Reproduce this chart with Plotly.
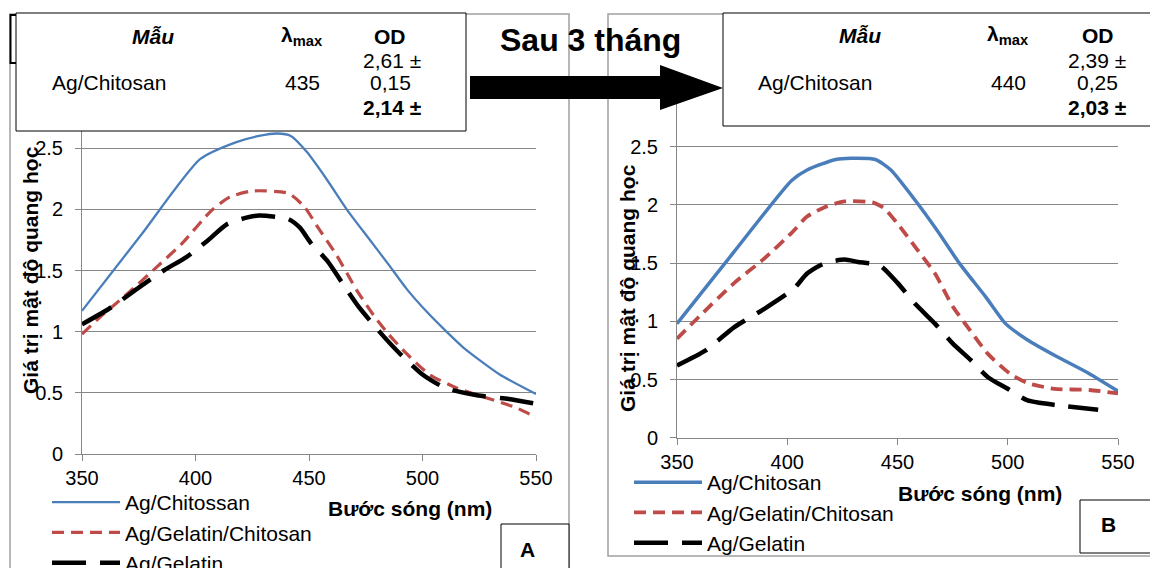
import plotly.graph_objects as go

# the page body has an 8 px margin, so the figure is drawn 8 px in from the top-left
OFF = 8
W, H = 1158 - OFF, 568 - OFF
FONT = "Liberation Sans"

# ---------------- data ----------------
wavelength_ticks = [350, 400, 450, 500, 550]
od_ticks = [0, 0.5, 1, 1.5, 2, 2.5]

series_names_a = ["Ag/Chitossan", "Ag/Gelatin/Chitosan", "Ag/Gelatin"]
series_names_b = ["Ag/Chitosan", "Ag/Gelatin/Chitosan", "Ag/Gelatin"]

# Panel A (ban đầu)
a_chitosan_x = [350, 376, 402, 418, 428, 436, 442, 449, 458, 467, 476, 485, 493, 502, 510, 518, 534, 550]
a_chitosan_y = [1.17, 1.79, 2.41, 2.55, 2.60, 2.62, 2.60, 2.47, 2.24, 1.99, 1.77, 1.55, 1.35, 1.16, 1.01, 0.87, 0.65, 0.49]

a_gel_chi_x = [350, 358, 370, 383, 394, 407, 415, 425, 441, 448, 454, 462, 471, 479, 485, 493, 503, 515, 528, 541, 550]
a_gel_chi_y = [0.98, 1.12, 1.31, 1.53, 1.72, 1.99, 2.10, 2.15, 2.13, 2.02, 1.85, 1.63, 1.34, 1.12, 0.98, 0.82, 0.65, 0.54, 0.46, 0.38, 0.30]

a_gelatin_x = [350, 363, 375, 386, 396, 405, 414, 422, 428, 441, 446, 451, 458, 466, 472, 482, 489, 500, 510, 524, 538, 550]
a_gelatin_y = [1.06, 1.20, 1.36, 1.50, 1.61, 1.74, 1.88, 1.93, 1.95, 1.92, 1.85, 1.72, 1.58, 1.36, 1.20, 0.98, 0.84, 0.65, 0.54, 0.48, 0.45, 0.41]

# Panel B (sau 3 tháng)
b_chitosan_x = [350, 376, 402, 409, 422, 429, 440, 447, 458, 468, 478, 490, 499, 509, 522, 537, 550]
b_chitosan_y = [0.98, 1.60, 2.21, 2.30, 2.39, 2.40, 2.39, 2.30, 2.04, 1.78, 1.50, 1.21, 0.98, 0.84, 0.70, 0.55, 0.40]

b_gel_chi_x = [350, 360, 376, 389, 402, 409, 417, 426, 439, 444, 450, 458, 467, 475, 483, 491, 501, 509, 521, 537, 550]
b_gel_chi_y = [0.85, 1.04, 1.33, 1.53, 1.76, 1.90, 1.98, 2.03, 2.02, 1.97, 1.84, 1.64, 1.41, 1.13, 0.92, 0.72, 0.55, 0.47, 0.42, 0.41, 0.38]

b_gelatin_x = [350, 363, 376, 389, 403, 409, 417, 426, 432, 442, 450, 458, 467, 475, 483, 491, 500, 509, 522, 541]
b_gelatin_y = [0.62, 0.75, 0.95, 1.10, 1.28, 1.41, 1.50, 1.53, 1.51, 1.48, 1.33, 1.15, 0.98, 0.81, 0.67, 0.52, 0.42, 0.32, 0.28, 0.24]

# tables
table_a = {"sample": "Ag/Chitosan", "lmax": "435", "od1": "2,61 ±", "od2": "0,15", "od3": "2,14 ±"}
table_b = {"sample": "Ag/Chitosan", "lmax": "440", "od1": "2,39 ±", "od2": "0,25", "od3": "2,03 ±"}

# ---------------- helpers (page pixels -> paper fractions) ----------------
def fx(px):
    return (px - OFF) / W

def fy(py):
    return 1 - (py - OFF) / H

BLUE = "#4A7EBB"
RED = "#BE4B48"
BLACK = "#000000"
GRID = "#868686"
BORDER = "#A0A0A0"

fig = go.Figure()

styles = [
    dict(color=BLUE, dash="solid"),
    dict(color=RED, dash="12px,7px"),
    dict(color=BLACK, dash="34px,14px"),
]
widths_a = [2.3, 3.2, 4.5]
widths_b = [3.5, 3.8, 4.5]

for (xs, ys), st, w, name in zip(
    [(a_chitosan_x, a_chitosan_y), (a_gel_chi_x, a_gel_chi_y), (a_gelatin_x, a_gelatin_y)],
    styles, widths_a, series_names_a):
    fig.add_trace(go.Scatter(x=xs, y=ys, mode="lines", name=name,
                             line=dict(color=st["color"], dash=st["dash"], width=w,
                                       shape="spline", smoothing=0.6),
                             xaxis="x", yaxis="y", legend="legend"))

for (xs, ys), st, w, name in zip(
    [(b_chitosan_x, b_chitosan_y), (b_gel_chi_x, b_gel_chi_y), (b_gelatin_x, b_gelatin_y)],
    styles, widths_b, series_names_b):
    fig.add_trace(go.Scatter(x=xs, y=ys, mode="lines", name=name,
                             line=dict(color=st["color"], dash=st["dash"], width=w,
                                       shape="spline", smoothing=0.6),
                             xaxis="x2", yaxis="y2", legend="legend2"))

xax = dict(range=[350, 550], tickvals=wavelength_ticks, showgrid=False, zeroline=False,
           showline=True, linecolor=GRID, linewidth=1, ticks="outside", ticklen=6,
           tickcolor=GRID, tickfont=dict(size=20, color="#000"), ticklabelstandoff=0,
           fixedrange=True, automargin=False)
yax = dict(range=[0, 3], tickvals=od_ticks, showgrid=True,
           gridcolor=GRID, gridwidth=1.3, zeroline=False, showline=True, linecolor=GRID,
           linewidth=1, ticks="outside", ticklen=6, tickcolor=GRID,
           tickfont=dict(size=20, color="#000"), ticklabelstandoff=8, fixedrange=True,
           automargin=False)

fig.update_layout(
    width=W, height=H,
    margin=dict(l=0, r=0, t=0, b=0, pad=0, autoexpand=False),
    paper_bgcolor="white", plot_bgcolor="white",
    font=dict(family=FONT, size=21, color="#000"),
    xaxis=dict(xax, domain=[fx(82), fx(536)], anchor="y"),
    yaxis=dict(yax, domain=[fy(454), fy(87)], anchor="x"),
    xaxis2=dict(xax, domain=[fx(677), fx(1118)], anchor="y2"),
    yaxis2=dict(yax, domain=[fy(437.7), fy(88.5)], anchor="x2"),
    legend=dict(x=fx(47), y=fy(482), xanchor="left", yanchor="top", itemwidth=68,
                bgcolor="rgba(0,0,0,0)", font=dict(size=21), traceorder="normal"),
    legend2=dict(x=fx(629), y=fy(462), xanchor="left", yanchor="top", itemwidth=68,
                 bgcolor="rgba(0,0,0,0)", font=dict(size=21), traceorder="normal"),
    showlegend=True,
)

shapes = []
# chart outer borders
shapes.append(dict(type="rect", xref="paper", yref="paper", x0=fx(10), x1=fx(569), y0=fy(14), y1=fy(600),
                   line=dict(color=BORDER, width=1.5), layer="below"))
shapes.append(dict(type="rect", xref="paper", yref="paper", x0=fx(608), x1=fx(1152), y0=fy(14), y1=fy(556),
                   line=dict(color=BORDER, width=1.5), layer="below"))
# black box partly hidden behind left table
shapes.append(dict(type="rect", xref="paper", yref="paper", x0=fx(10.5), x1=fx(40), y0=fy(15), y1=fy(63),
                   line=dict(color="#000", width=2), fillcolor="white", layer="above"))
# tables
shapes.append(dict(type="rect", xref="paper", yref="paper", x0=fx(16), x1=fx(466), y0=fy(13), y1=fy(131),
                   line=dict(color="#000", width=1), fillcolor="white", layer="above"))
shapes.append(dict(type="rect", xref="paper", yref="paper", x0=fx(723), x1=fx(1170), y0=fy(13), y1=fy(126),
                   line=dict(color="#000", width=1), fillcolor="white", layer="above"))
# arrow
pts = [(470, 76), (660, 76), (660, 65), (723, 88), (660, 110), (660, 99), (470, 99)]
path = "M " + " L ".join(f"{fx(a):.5f},{fy(b):.5f}" for a, b in pts) + " Z"
shapes.append(dict(type="path", xref="paper", yref="paper", path=path,
                   fillcolor="#000", line=dict(color="#000", width=0), layer="above"))
# A / B boxes
shapes.append(dict(type="rect", xref="paper", yref="paper", x0=fx(501), x1=fx(569), y0=fy(524), y1=fy(600),
                   line=dict(color="#000", width=1), fillcolor="white", layer="above"))
shapes.append(dict(type="rect", xref="paper", yref="paper", x0=fx(1080), x1=fx(1153), y0=fy(500), y1=fy(553),
                   line=dict(color="#000", width=1), fillcolor="white", layer="above"))
fig.update_layout(shapes=shapes)

ann = []
def txt(text, x, y, size=21, xanchor="center", angle=0):
    ann.append(dict(text=text, x=fx(x), y=fy(y), xref="paper", yref="paper", showarrow=False,
                    xanchor=xanchor, yanchor="middle", textangle=angle,
                    font=dict(size=size, family=FONT, color="#000")))

# left table
txt("<b><i>Mẫu</i></b>", 153, 36)
txt("<b>λ<sub>max</sub></b>", 302, 36)
txt("<b>OD</b>", 390, 36)
txt(table_a["od1"], 392, 60)
txt(table_a["sample"], 50, 83, xanchor="left")
txt(table_a["lmax"], 302, 83)
txt(table_a["od2"], 390, 83)
txt("<b>" + table_a["od3"] + "</b>", 392, 107)
# right table
txt("<b><i>Mẫu</i></b>", 860, 35)
txt("<b>λ<sub>max</sub></b>", 1008, 35)
txt("<b>OD</b>", 1098, 35)
txt(table_b["od1"], 1097, 60)
txt(table_b["sample"], 756, 83, xanchor="left")
txt(table_b["lmax"], 1008, 83)
txt(table_b["od2"], 1097, 83)
txt("<b>" + table_b["od3"] + "</b>", 1097, 107)
# arrow caption
txt("<b>Sau 3 tháng</b>", 590, 40, size=32)
# axis titles
txt("<b>Giá trị mật độ quang học</b>", 30, 270, angle=-90)
txt("<b>Giá trị mật độ quang học</b>", 627, 288, angle=-90)
txt("<b>Bước sóng (nm)</b>", 410, 508)
txt("<b>Bước sóng (nm)</b>", 980, 493)
# panel letters
txt("<b>A</b>", 527, 549)
txt("<b>B</b>", 1108, 524)

fig.update_layout(annotations=ann)

fig.write_html("out.html")
